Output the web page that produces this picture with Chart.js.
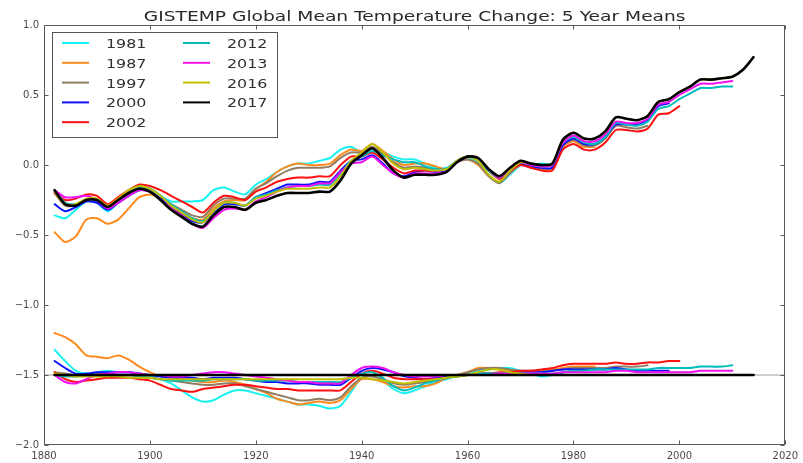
<!DOCTYPE html>
<html>
<head>
<meta charset="utf-8">
<script src="https://cdn.jsdelivr.net/npm/chart.js@4.4.1/dist/chart.umd.min.js"></script>
<style>
  html, body { margin: 0; padding: 0; background: #ffffff; }
  #wrap { width: 803px; height: 463px; }
</style>
</head>
<body>
<div id="wrap"><canvas id="chart" width="803" height="463"></canvas></div>
<script>
// GISTEMP global mean temperature change, 5-year running means (deg C)
const chartTitle = 'GISTEMP Global Mean Temperature Change: 5 Year Means';

const years = [1882, 1884, 1886, 1888, 1890, 1892, 1894, 1896, 1898, 1900,
               1902, 1904, 1906, 1908, 1910, 1912, 1914, 1916, 1918, 1920,
               1922, 1924, 1926, 1928, 1930, 1932, 1934, 1936, 1938, 1940,
               1942, 1944, 1946, 1948, 1950, 1952, 1954, 1956, 1958, 1960,
               1962, 1964, 1966, 1968, 1970, 1972, 1974, 1976, 1978, 1980,
               1982, 1984, 1986, 1988, 1990, 1992, 1994, 1996, 1998, 2000,
               2002, 2004, 2006, 2008, 2010, 2012, 2014];

// 2017 edition anomalies
const anom2017 = [-0.18, -0.28, -0.29, -0.25, -0.25, -0.30, -0.25, -0.20, -0.17, -0.19,
                  -0.25, -0.32, -0.37, -0.42, -0.44, -0.36, -0.30, -0.30, -0.32, -0.27,
                  -0.25, -0.22, -0.20, -0.20, -0.20, -0.19, -0.19, -0.11, 0.01, 0.07,
                  0.12, 0.05, -0.04, -0.09, -0.07, -0.07, -0.07, -0.05, 0.02, 0.06,
                  0.05, -0.03, -0.08, -0.02, 0.03, 0.01, 0.00, 0.01, 0.18, 0.23,
                  0.19, 0.19, 0.24, 0.34, 0.33, 0.32, 0.35, 0.45, 0.47, 0.52,
                  0.56, 0.61, 0.61, 0.62, 0.63, 0.68, 0.77];

// 2017 edition minus each earlier edition, on the same years (each ends with its edition's record)
const gap1981 = [0.18, 0.10, 0.03, 0.01, 0.02, 0.03, 0.02, 0.02, 0.01, -0.01,
                 -0.03, -0.06, -0.11, -0.16, -0.19, -0.18, -0.14, -0.11, -0.11, -0.13,
                 -0.15, -0.17, -0.19, -0.21, -0.21, -0.22, -0.24, -0.22, -0.12, -0.02,
                 0.00, -0.04, -0.10, -0.13, -0.11, -0.08, -0.05, -0.03, -0.01, 0.01,
                 0.03, 0.04, 0.05, 0.05, 0.03, 0.01, -0.01, 0.00, 0.01];
const gap1987 = [0.30, 0.27, 0.22, 0.14, 0.13, 0.12, 0.14, 0.11, 0.06, 0.02,
                 -0.01, -0.02, -0.03, -0.04, -0.05, -0.05, -0.04, -0.05, -0.07, -0.10,
                 -0.13, -0.17, -0.19, -0.21, -0.20, -0.19, -0.20, -0.18, -0.10, -0.03,
                 -0.03, -0.05, -0.08, -0.09, -0.08, -0.08, -0.06, -0.02, 0.00, 0.02,
                 0.05, 0.05, 0.04, 0.03, 0.02, 0.03, 0.03, 0.04, 0.05, 0.06,
                 0.06, 0.06];
const gap1997 = [0.02, 0.01, 0.00, 0.00, 0.01, 0.01, 0.00, 0.00, -0.01, -0.02,
                 -0.03, -0.04, -0.05, -0.06, -0.07, -0.07, -0.06, -0.06, -0.08, -0.10,
                 -0.12, -0.14, -0.16, -0.18, -0.18, -0.17, -0.18, -0.16, -0.08, -0.02,
                 -0.01, -0.03, -0.06, -0.07, -0.06, -0.05, -0.04, -0.02, 0.00, 0.02,
                 0.04, 0.05, 0.05, 0.04, 0.03, 0.03, 0.03, 0.03, 0.04, 0.05,
                 0.05, 0.05, 0.05, 0.06, 0.06, 0.06, 0.07];
const gap2000 = [0.10, 0.05, 0.01, 0.01, 0.02, 0.02, 0.02, 0.02, 0.01, 0.00,
                 -0.01, -0.02, -0.02, -0.02, -0.03, -0.02, -0.02, -0.02, -0.03, -0.04,
                 -0.05, -0.05, -0.06, -0.06, -0.06, -0.07, -0.07, -0.07, -0.02, 0.03,
                 0.05, 0.04, 0.02, -0.01, -0.02, -0.03, -0.02, -0.01, 0.00, 0.00,
                 0.01, 0.01, 0.01, 0.01, 0.02, 0.02, 0.02, 0.03, 0.04, 0.04,
                 0.04, 0.04, 0.04, 0.05, 0.04, 0.03, 0.03, 0.03, 0.03];
const gap2002 = [0.02, -0.03, -0.05, -0.04, -0.03, -0.02, -0.02, -0.02, -0.03, -0.04,
                 -0.07, -0.10, -0.11, -0.12, -0.10, -0.09, -0.08, -0.07, -0.07, -0.08,
                 -0.09, -0.10, -0.10, -0.11, -0.11, -0.11, -0.11, -0.11, -0.05, 0.01,
                 0.03, 0.01, -0.02, -0.03, -0.03, -0.03, -0.03, -0.02, -0.01, 0.00,
                 0.01, 0.01, 0.02, 0.02, 0.03, 0.03, 0.04, 0.05, 0.07, 0.08,
                 0.08, 0.08, 0.08, 0.09, 0.08, 0.08, 0.09, 0.09, 0.10, 0.10];
const gap2012 = [0.00, -0.01, -0.01, 0.00, 0.00, 0.00, 0.00, 0.00, -0.01, -0.02,
                 -0.03, -0.04, -0.04, -0.04, -0.04, -0.03, -0.03, -0.03, -0.03, -0.04,
                 -0.04, -0.04, -0.04, -0.05, -0.05, -0.05, -0.05, -0.05, -0.02, 0.01,
                 0.02, -0.02, -0.08, -0.11, -0.09, -0.06, -0.04, -0.02, -0.01, 0.00,
                 0.01, 0.01, 0.01, 0.01, 0.01, 0.01, 0.01, 0.01, 0.02, 0.03,
                 0.03, 0.04, 0.04, 0.04, 0.04, 0.04, 0.04, 0.05, 0.05, 0.05,
                 0.05, 0.06, 0.06, 0.06, 0.07];
const gap2013 = [0.00, -0.05, -0.06, -0.03, 0.00, 0.01, 0.02, 0.02, 0.01, 0.00,
                 0.00, -0.01, -0.01, 0.00, 0.01, 0.02, 0.02, 0.01, 0.00, -0.01,
                 -0.02, -0.03, -0.04, -0.05, -0.05, -0.06, -0.06, -0.06, 0.00, 0.05,
                 0.06, 0.05, 0.02, 0.00, -0.01, -0.01, -0.01, 0.00, 0.00, 0.00,
                 0.00, 0.00, 0.01, 0.01, 0.01, 0.01, 0.01, 0.01, 0.02, 0.02,
                 0.02, 0.02, 0.02, 0.03, 0.03, 0.02, 0.02, 0.02, 0.02, 0.02,
                 0.02, 0.03, 0.03, 0.03, 0.03];
const gap2016 = [0.01, 0.00, -0.01, -0.01, -0.01, -0.01, -0.01, -0.02, -0.02, -0.02,
                 -0.03, -0.03, -0.03, -0.03, -0.03, -0.03, -0.03, -0.03, -0.03, -0.03,
                 -0.03, -0.03, -0.03, -0.03, -0.03, -0.03, -0.03, -0.03, -0.02, -0.02,
                 -0.03, -0.04, -0.05, -0.06, -0.05, -0.04, -0.03, -0.02, -0.01, 0.00,
                 0.02, 0.04, 0.04, 0.02, 0.01, 0.00, 0.00, 0.00, 0.00, 0.00,
                 0.00, 0.00, 0.00, 0.00, 0.00, 0.00, 0.00, 0.00, 0.00, 0.00,
                 0.00, 0.00, 0.00, 0.00, 0.00, 0.00];

const editions = ['1981', '1987', '1997', '2000', '2002', '2012', '2013', '2016', '2017'];

// Difference curves are drawn around this level
const diffLevel = -1.5;

const xTickLabels = ['1880', '1900', '1920', '1940', '1960', '1980', '2000', '2020'];
const yTickLabels = ['−2.0', '−1.5', '−1.0', '−0.5', '0.0', '0.5', '1.0'];

// ---- styles ----
const editionColors = {
  '1981': '#19f2f2', '1987': '#ff8a1e', '1997': '#8f7c62', '2000': '#1010ff',
  '2002': '#ff1010', '2012': '#00bcbc', '2013': '#f010f0', '2016': '#bfbf00',
  '2017': '#000000'
};
const FONT = '"DejaVu Sans", "Liberation Sans", sans-serif';
const TEXT_STRETCH = 1.27;

const gapsByEdition = {
  '1981': gap1981, '1987': gap1987, '1997': gap1997, '2000': gap2000, '2002': gap2002,
  '2012': gap2012, '2013': gap2013, '2016': gap2016,
  '2017': anom2017.map(v => v - v)
};

const datasets = [];
// thin reference line through the difference level
datasets.push({
  label: 'reference',
  data: [{ x: 1880, y: diffLevel }, { x: 2020, y: diffLevel }],
  borderColor: '#8a8a8a', borderWidth: 0.8, tension: 0, order: 100
});
editions.forEach((ed, i) => {
  const gap = gapsByEdition[ed];
  const upper = gap.map((g, k) => ({ x: years[k], y: +(anom2017[k] - g).toFixed(3) }));
  const lower = gap.map((g, k) => ({ x: years[k], y: +(diffLevel + g).toFixed(3) }));
  const order = (editions.length - i) * 2;
  const width = ed === '2017' ? 2.6 : 2;
  datasets.push({ label: ed, data: upper, borderColor: editionColors[ed], borderWidth: width, order: order });
  datasets.push({ label: ed + ' diff', data: lower, borderColor: editionColors[ed], borderWidth: width, order: order - 1 });
});

function stretchedText(ctx, text, x, y, align) {
  ctx.save();
  ctx.translate(x, y);
  ctx.scale(TEXT_STRETCH, 1);
  ctx.textAlign = align;
  ctx.fillText(text, 0, 0);
  ctx.restore();
}

const framePlugin = {
  id: 'frameTitleLegend',
  afterDraw(chart) {
    const { ctx, chartArea: a } = chart;
    const xs = chart.scales.x, ys = chart.scales.y;
    ctx.save();
    // plot frame
    const L = Math.round(a.left) + 0.5, R = Math.round(a.right) - 0.5;
    const T = Math.round(a.top) + 0.5, B = Math.round(a.bottom) - 0.5;
    ctx.strokeStyle = '#5a5a5a';
    ctx.lineWidth = 1;
    ctx.strokeRect(L, T, R - L, B - T);
    // inward tick marks
    ctx.beginPath();
    xs.ticks.forEach(t => {
      const px = Math.round(xs.getPixelForValue(t.value)) + 0.5;
      ctx.moveTo(px, B); ctx.lineTo(px, B - 4);
      ctx.moveTo(px, T); ctx.lineTo(px, T + 4);
    });
    ys.ticks.forEach(t => {
      const py = Math.round(ys.getPixelForValue(t.value)) + 0.5;
      ctx.moveTo(L, py); ctx.lineTo(L + 4, py);
      ctx.moveTo(R, py); ctx.lineTo(R - 4, py);
    });
    ctx.stroke();

    // title
    ctx.fillStyle = '#2a2a2a';
    ctx.font = '14.7px ' + FONT;
    stretchedText(ctx, chartTitle, (a.left + a.right) / 2, a.top - 4, 'center');

    // legend
    const x0 = Math.round(a.left) + 8, y0 = Math.round(a.top) + 7, w = 225, h = 105;
    ctx.fillStyle = '#ffffff';
    ctx.fillRect(x0, y0, w, h);
    ctx.strokeStyle = '#555555';
    ctx.strokeRect(x0 + 0.5, y0 + 0.5, w, h);
    ctx.font = '12.5px ' + FONT;
    editions.forEach((ed, i) => {
      const col = i < 5 ? 0 : 1;
      const row = i < 5 ? i : i - 5;
      const lx = x0 + 10 + col * 121;
      const ly = y0 + 11 + row * 19.8;
      ctx.strokeStyle = editionColors[ed];
      ctx.lineWidth = 2;
      ctx.beginPath();
      ctx.moveTo(lx, ly); ctx.lineTo(lx + 27, ly);
      ctx.stroke();
      ctx.fillStyle = '#303030';
      stretchedText(ctx, ed, lx + 44, ly + 5, 'left');
    });
    ctx.restore();
  }
};

const tickFont = { family: FONT, size: 10 };
new Chart(document.getElementById('chart'), {
  type: 'line',
  data: { datasets },
  options: {
    responsive: false,
    animation: false,
    devicePixelRatio: 1,
    layout: { padding: { top: 25, right: 16, left: 0, bottom: 0 } },
    plugins: { legend: { display: false }, title: { display: false }, tooltip: { enabled: false } },
    elements: {
      point: { radius: 0 },
      line: { tension: 0.25, borderWidth: 2, borderCapStyle: 'round', borderJoinStyle: 'round', fill: false }
    },
    scales: {
      x: {
        type: 'linear', min: 1880, max: 2020,
        afterFit: s => { s.height = 18; },
        grid: { display: false, drawTicks: false },
        border: { display: false },
        ticks: {
          stepSize: 20, autoSkip: false, maxRotation: 0, padding: 5,
          color: '#4a4a4a', font: tickFont,
          callback: (v, idx) => xTickLabels[idx] ?? String(v)
        }
      },
      y: {
        type: 'linear', min: -2, max: 1,
        afterFit: s => { s.width = 44; },
        grid: { display: false, drawTicks: false },
        border: { display: false },
        ticks: {
          stepSize: 0.5, autoSkip: false, padding: 5,
          color: '#4a4a4a', font: tickFont,
          callback: (v, idx) => yTickLabels[idx] ?? String(v)
        }
      }
    }
  },
  plugins: [framePlugin]
});
</script>
</body>
</html>
